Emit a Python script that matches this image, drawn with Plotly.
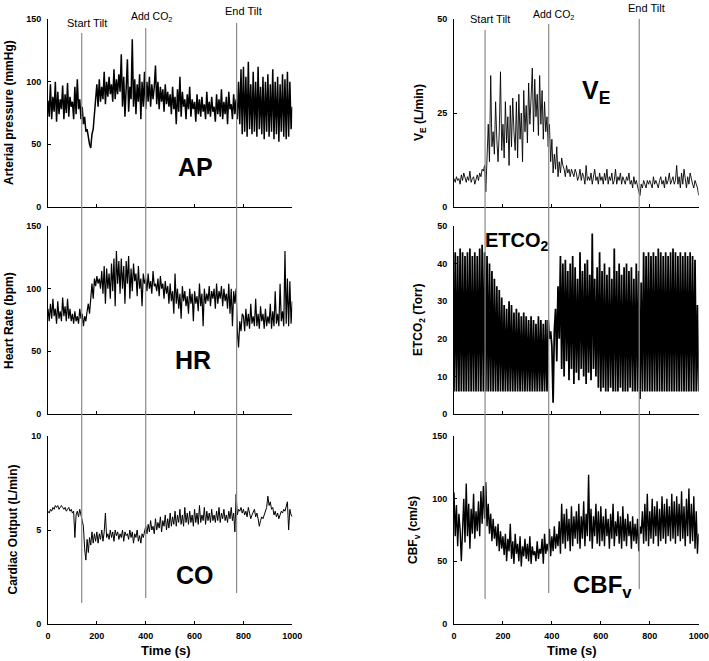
import numpy as np
import plotly.graph_objects as go

time_s = np.arange(0, 1001, 5)

ap_mmHg = [
    85, 72, 98, 70, 88, 76, 100, 68, 92, 74, 86, 78, 97, 70, 90, 75, 99, 72, 88, 80,
    84, 70, 96, 74, 102, 78, 86, 70, 80, 66, 72, 60, 62, 54, 50, 47, 58, 62, 72, 84,
    98, 80, 102, 84, 96, 86, 108, 82, 100, 88, 104, 90, 98, 84, 110, 86, 102, 90, 106, 92,
    122, 80, 104, 72, 100, 118, 76, 96, 86, 134, 80, 102, 74, 98, 84, 106, 70, 100, 80, 108,
    78, 100, 84, 104, 80, 98, 86, 96, 113, 82, 100, 78, 96, 84, 94, 76, 98, 82, 92, 80,
    90, 74, 96, 78, 88, 66, 94, 76, 104, 72, 92, 80, 86, 70, 90, 78, 96, 72, 86, 78,
    84, 68, 90, 74, 86, 72, 88, 76, 82, 70, 92, 74, 84, 72, 88, 76, 80, 68, 90, 74,
    86, 72, 94, 70, 84, 74, 88, 66, 92, 78, 82, 70, 90, 74, 86, 70, 100, 66, 110, 58,
    112, 60, 104, 56, 116, 62, 98, 58, 108, 60, 100, 56, 112, 62, 96, 58, 104, 54, 100, 60,
    106, 56, 98, 60, 110, 54, 100, 58, 104, 52, 98, 60, 106, 56, 102, 54, 108, 56, 100, 62,
    80,
]

hr_bpm = [
    84, 74, 88, 76, 92, 78, 84, 72, 90, 76, 82, 74, 93, 78, 86, 74, 92, 76, 84, 74,
    80, 72, 82, 74, 78, 72, 84, 76, 80, 70, 78, 74, 82, 88, 80, 96, 104, 92, 108, 102,
    110, 104, 108, 100, 114, 96, 118, 88, 116, 100, 112, 92, 120, 98, 124, 86, 130, 104, 122, 96,
    124, 100, 118, 88, 122, 104, 126, 92, 116, 98, 120, 106, 112, 94, 118, 100, 108, 86, 112, 104,
    108, 98, 112, 100, 106, 96, 114, 102, 104, 98, 108, 94, 110, 100, 104, 92, 106, 96, 102, 88,
    104, 90, 98, 80, 112, 88, 100, 84, 96, 76, 102, 90, 98, 86, 94, 80, 100, 88, 96, 74,
    98, 88, 94, 82, 104, 86, 96, 70, 100, 88, 96, 90, 102, 86, 98, 92, 100, 84, 104, 88,
    98, 92, 102, 86, 100, 90, 96, 84, 104, 80, 100, 70, 98, 88, 100, 66, 53, 74, 66, 80,
    78, 66, 84, 70, 80, 68, 88, 72, 78, 70, 92, 70, 80, 68, 86, 74, 80, 68, 84, 70,
    78, 72, 88, 68, 82, 70, 98, 72, 80, 70, 104, 74, 82, 70, 130, 72, 108, 70, 106, 72,
    90,
]

co_lmin = [
    6.0, 5.9, 6.1, 6.0, 6.2, 6.1, 6.3, 6.2, 6.3, 6.1, 6.2, 6.3, 6.2, 6.1, 6.2, 6.0, 6.1, 6.2, 6.0, 6.1,
    5.9, 6.0, 4.6, 5.8, 6.0, 5.7, 6.1, 5.8, 5.6, 5.2, 4.0, 3.4, 4.5, 3.8, 4.6, 4.2, 4.9, 4.3, 4.8, 4.4,
    4.9, 4.3, 4.8, 4.5, 5.0, 4.4, 4.9, 5.9, 4.6, 4.8, 4.5, 5.0, 4.6, 4.9, 4.4, 5.0, 4.7, 4.9, 4.5, 4.8,
    4.6, 5.0, 4.4, 4.9, 4.7, 4.8, 4.5, 5.0, 4.6, 4.9, 4.3, 4.8, 4.6, 5.0, 4.4, 4.7, 4.3, 4.8, 4.6, 5.0,
    5.2, 4.8, 5.3, 4.9, 5.5, 5.0, 5.2, 4.8, 5.6, 5.0, 5.4, 5.1, 5.7, 4.9, 5.5, 5.2, 5.8, 5.0, 5.6, 5.1,
    5.9, 5.2, 5.7, 5.3, 6.0, 5.2, 5.8, 5.4, 6.1, 5.3, 5.8, 5.2, 6.2, 5.4, 5.9, 5.3, 6.0, 5.4, 5.8, 5.2,
    6.1, 5.4, 5.9, 5.3, 6.3, 5.4, 5.8, 5.5, 6.2, 5.3, 6.0, 5.5, 5.9, 5.4, 6.1, 5.5, 5.8, 5.4, 6.0, 5.5,
    6.2, 5.4, 5.9, 5.6, 6.1, 5.5, 5.8, 5.4, 6.0, 5.6, 6.2, 5.5, 5.9, 4.9, 6.9, 5.8, 6.1, 6.0, 6.2, 5.9,
    6.1, 5.8, 6.0, 5.7, 6.2, 5.9, 5.6, 5.8, 6.0, 6.1, 5.7, 5.9, 5.6, 5.2, 5.5, 5.7, 5.6, 5.8, 6.0, 6.2,
    6.8, 6.3, 6.5, 6.1, 6.2, 5.8, 6.0, 5.7, 5.9, 5.6, 5.8, 6.0, 5.9, 6.1, 6.0, 6.3, 6.5, 5.0, 6.1, 5.8,
    5.7,
]

ve_lmin = [
    7.5, 6.5, 8.0, 7.0, 7.5, 6.0, 8.5, 7.0, 9.0, 7.5, 6.5, 8.0, 7.0, 9.5, 6.5, 7.5, 8.0, 6.0, 7.5, 8.5,
    7.0, 9.0, 8.0, 10.0, 9.5, 11.0, 4.0, 15.0, 22.0, 12.0, 35.0, 16.0, 20.0, 14.0, 28.0, 18.0, 12.0, 20.0, 36.0, 15.0,
    22, 13, 28, 17, 24, 11, 27, 16, 29, 20, 15, 28, 13, 30, 18, 25, 12, 31, 20, 27,
    17, 33, 22, 29, 37, 20, 34, 24, 30, 19, 35, 22, 31, 18, 28, 20, 24, 16, 22, 12,
    18, 9, 14, 10, 16, 8, 12, 9, 13, 11, 10, 8, 11, 9, 10, 8, 10, 9, 8, 10,
    9, 7, 8, 10, 7, 9, 8, 6, 11, 7, 8, 7, 9, 6, 8, 10, 7, 8, 6, 9,
    7, 8, 6, 9, 7, 10, 6, 8, 7, 9, 6, 7, 10, 6, 8, 7, 9, 6, 8, 7,
    6, 8, 7, 9, 6, 7, 5, 8, 6, 7, 5, 4, 3, 6, 5, 7, 6, 5, 7, 6,
    7, 6, 5, 8, 6, 7, 6, 5, 7, 8, 6, 7, 5, 8, 6, 7, 9, 6, 7, 8,
    6, 7, 11, 6, 8, 5, 9, 6, 10, 7, 5, 8, 6, 9, 7, 6, 5, 7, 6, 5,
    3,
]

etco2_torr = [
    6, 43, 6, 42, 6, 44, 6, 43, 6, 42, 6, 43, 6, 44, 6, 42, 6, 43, 6, 42,
    6, 44, 6, 45, 6, 43, 6, 42, 6, 40, 6, 38, 6, 36, 6, 34, 6, 33, 6, 31,
    6, 29, 6, 28, 6, 30, 6, 29, 6, 27, 6, 28, 6, 27, 6, 26, 6, 27, 6, 26,
    6, 25, 6, 26, 6, 25, 6, 24, 6, 26, 6, 25, 6, 24, 6, 25, 6, 25, 20, 22,
    18, 3, 22, 28, 14, 34, 20, 42, 12, 40, 10, 41, 14, 38, 9, 40, 12, 42, 8, 39,
    11, 36, 9, 43, 12, 38, 10, 40, 8, 41, 11, 37, 9, 48, 12, 36, 10, 39, 7, 43,
    6, 38, 7, 40, 6, 37, 6, 39, 7, 36, 6, 44, 6, 38, 6, 40, 7, 37, 6, 39,
    6, 40, 6, 38, 7, 39, 6, 36, 6, 40, 6, 38, 4, 35, 6, 43, 6, 42, 6, 43,
    6, 42, 6, 43, 6, 42, 6, 44, 6, 43, 6, 42, 6, 43, 6, 42, 6, 43, 6, 44,
    6, 43, 6, 42, 6, 43, 6, 42, 6, 43, 6, 42, 6, 43, 6, 42, 6, 41, 6, 29,
    6,
]

cbfv_cms = [
    105, 70, 95, 62, 88, 75, 50, 80, 100, 65, 112, 70, 96, 60, 92, 72, 104, 68, 90, 74,
    98, 70, 106, 80, 110, 84, 113, 78, 96, 72, 88, 66, 84, 68, 78, 62, 80, 58, 74, 60,
    70, 55, 72, 50, 68, 58, 80, 52, 66, 48, 72, 56, 64, 50, 70, 46, 62, 54, 68, 52,
    64, 50, 70, 48, 62, 55, 58, 50, 66, 52, 60, 56, 68, 48, 72, 56, 64, 58, 76, 54,
    70, 58, 78, 60, 72, 62, 82, 56, 96, 64, 88, 60, 92, 66, 84, 58, 94, 62, 86, 68,
    90, 64, 96, 60, 86, 68, 98, 62, 88, 70, 119, 66, 92, 60, 86, 70, 96, 64, 90, 62,
    94, 66, 86, 62, 92, 70, 84, 60, 88, 68, 96, 62, 82, 70, 90, 64, 86, 60, 94, 66,
    84, 62, 88, 70, 82, 60, 86, 66, 80, 64, 84, 58, 78, 72, 90, 64, 96, 66, 104, 62,
    90, 68, 100, 64, 94, 70, 98, 62, 92, 66, 102, 68, 96, 64, 100, 70, 94, 66, 104, 68,
    98, 64, 102, 70, 96, 66, 106, 68, 94, 62, 100, 70, 108, 64, 96, 66, 102, 60, 90, 56,
    72,
]

# event times (s)
events_left = [138, 400, 772]
events_right = [127, 387, 757]
event_labels = ["Start Tilt", "Add CO<sub>2</sub>", "End Tilt"]

x_ticks = [0, 200, 400, 600, 800, 1000]
ap_ticks = [0, 50, 100, 150]
hr_ticks = [0, 50, 100, 150]
co_ticks = [0, 5, 10]
ve_ticks = [0, 25, 50]
etco2_ticks = [0, 10, 20, 30, 40, 50]
cbfv_ticks = [0, 50, 100, 150]

# ---------------- layout helpers ----------------
W, H = 709, 661
def fx(p):
    return p / W
def fy(p):
    return 1 - p / H

FONT = "Liberation Sans, Arial, sans-serif"
left_dom = [fx(48), fx(292.3)]
right_dom = [fx(454), fx(698.7)]
rows = [(19.3, 206.7), (226, 414), (436, 624)]

panels = [
    # (series, xdomain, row, yrange, yticks, bottom, linewidth)
    (ap_mmHg, left_dom, 0, [0, 150], ap_ticks, False, 1.5),
    (hr_bpm, left_dom, 1, [0, 150], hr_ticks, False, 1.2),
    (co_lmin, left_dom, 2, [0, 10], co_ticks, True, 1.0),
    (ve_lmin, right_dom, 0, [0, 50], ve_ticks, False, 0.9),
    (etco2_torr, right_dom, 1, [0, 50], etco2_ticks, False, 1.75),
    (cbfv_cms, right_dom, 2, [0, 150], cbfv_ticks, True, 1.4),
]

fig = go.Figure()
layout = dict(
    width=W, height=H,
    margin=dict(l=0, r=0, t=0, b=0, autoexpand=False),
    paper_bgcolor="white", plot_bgcolor="white",
    showlegend=False,
    font=dict(family=FONT, color="black"),
)

tickfont = dict(family=FONT, size=9, color="black", weight="bold")
for i, (series, xdom, row, yr, yt, bottom, lw) in enumerate(panels, start=1):
    xa = "x" if i == 1 else f"x{i}"
    ya = "y" if i == 1 else f"y{i}"
    fig.add_trace(go.Scatter(
        x=time_s, y=series, mode="lines",
        line=dict(color="black", width=lw),
        xaxis=xa, yaxis=ya, hoverinfo="skip",
    ))
    top, bot = rows[row]
    layout[f"xaxis{i}"] = dict(
        domain=xdom, anchor=ya, range=[0, 1000], automargin=False,
        tickvals=x_ticks, showticklabels=bottom,
        ticks="inside", ticklen=3, tickcolor="black", tickwidth=1,
        showline=True, linecolor="black", linewidth=1,
        showgrid=False, zeroline=False, tickfont=tickfont,
        ticklabelstandoff=3,
    )
    layout[f"yaxis{i}"] = dict(
        domain=[fy(bot), fy(top)], anchor=xa, range=yr, automargin=False,
        tickvals=yt,
        ticks="inside", ticklen=3, tickcolor="black", tickwidth=1,
        showline=True, linecolor="black", linewidth=1,
        showgrid=False, zeroline=False, tickfont=tickfont,
        ticklabelstandoff=4,
    )

# vertical event lines (times in data coords of the bottom axes)
left_spans = [(33, 603), (28, 598), (23, 593)]
right_spans = [(30, 599), (24, 593), (19, 589)]
shapes = []
for t, (y0, y1) in zip(events_left, left_spans):
    shapes.append(dict(type="line", xref="x3", yref="paper", x0=t, x1=t,
                       y0=fy(y1), y1=fy(y0), line=dict(color="#8a8a8a", width=1.2),
                       layer="above"))
for t, (y0, y1) in zip(events_right, right_spans):
    shapes.append(dict(type="line", xref="x6", yref="paper", x0=t, x1=t,
                       y0=fy(y1), y1=fy(y0), line=dict(color="#8a8a8a", width=1.2),
                       layer="above"))
layout["shapes"] = shapes

ann = []
def add_text(text, x, y, size, bold=False, angle=0):
    ann.append(dict(
        text=text, x=fx(x), y=fy(y), xref="paper", yref="paper",
        showarrow=False, xanchor="center", yanchor="middle", textangle=angle,
        font=dict(family=FONT, size=size, color="black",
                  weight="bold" if bold else "normal"),
    ))

# event labels
for lab, (x, y, s) in zip(event_labels, [(87, 23, 11), (151, 17, 10.5), (243, 11, 11)]):
    add_text(lab, x, y, s)
for lab, (x, y, s) in zip(event_labels, [(490, 19, 11), (553, 15, 10.5), (646, 7.5, 11)]):
    add_text(lab, x, y, s)

# axis titles
add_text("Arterial pressure (mmHg)", 9, 113, 12, bold=True, angle=-90)
add_text("Heart Rate (bpm)", 9, 321, 12, bold=True, angle=-90)
add_text("Cardiac Output (L/min)", 12.5, 530, 12, bold=True, angle=-90)
add_text("V<sub>E</sub> (L/min)", 420, 113, 12, bold=True, angle=-90)
add_text("ETCO<sub>2</sub> (Torr)", 419, 320, 12, bold=True, angle=-90)
add_text("CBF<sub>v</sub> (cm/s)", 414, 530, 12, bold=True, angle=-90)
add_text("Time (s)", 166, 650, 13, bold=True)
add_text("Time (s)", 572, 650, 13, bold=True)

# big panel labels
add_text("AP", 195, 167, 25, bold=True)
add_text("HR", 193, 360, 25, bold=True)
add_text("CO", 195, 575, 25, bold=True)
add_text("V<sub>E</sub>", 596, 92, 25, bold=True)
add_text("ETCO<sub>2</sub>", 517, 241, 20, bold=True)
add_text("CBF<sub>v</sub>", 602, 586, 24, bold=True)

layout["annotations"] = ann
fig.update_layout(**layout)
fig.write_html(
    "out.html",
    config={"displayModeBar": False},
    post_script="document.body.style.margin='0px';document.body.style.padding='0px';"
                "document.body.style.overflow='hidden';",
)
